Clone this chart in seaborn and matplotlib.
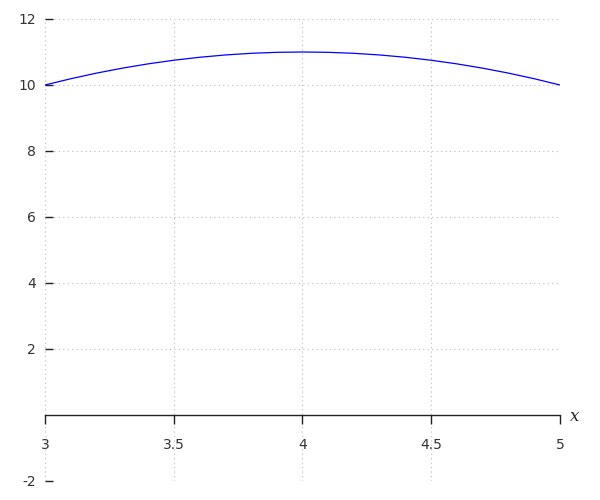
import matplotlib.pyplot as plt
import pandas as pd
import seaborn as sns

# points
x_vals = [3.0, 3.1, 3.2, 3.3, 3.4, 3.5, 3.6, 3.7, 3.8, 3.9, 4.0,
          4.1, 4.2, 4.3, 4.4, 4.5, 4.6, 4.7, 4.8, 4.9, 5.0]
y_vals = [10.0, 10.19, 10.36, 10.51, 10.64, 10.75, 10.84, 10.91, 10.96, 10.99, 11.0,
          10.99, 10.96, 10.91, 10.84, 10.75, 10.64, 10.51, 10.36, 10.19, 10.0]
x_ticks = [3, 3.5, 4, 4.5, 5]
x_tick_labels = ['3', '3.5', '4', '4.5', '5']
y_ticks = [-2, 2, 4, 6, 8, 10, 12]
y_tick_labels = ['-2', '2', '4', '6', '8', '10', '12']

df = pd.DataFrame({'x': x_vals, 'y': y_vals})

sns.set_theme(style='white')
plt.rcParams['font.family'] = ['DejaVu Sans']
plt.rcParams['axes.unicode_minus'] = False

fig = plt.figure(figsize=(6, 5), dpi=100)
ax = fig.add_axes([0.075, 0.038, 0.8583, 0.924])

sns.lineplot(data=df, x='x', y='y', ax=ax, color='blue', linewidth=0.9)

ax.set_xlim(3, 5)
ax.set_ylim(-2, 12)
ax.set_xticks(x_ticks)
ax.set_xticklabels(x_tick_labels)
ax.set_yticks(y_ticks)
ax.set_yticklabels(y_tick_labels)
ax.set_xlabel('')
ax.set_ylabel('')

# x axis sits at y=0, no left spine
ax.spines['bottom'].set_position(('data', 0))
ax.spines['bottom'].set_color('#222222')
ax.spines['bottom'].set_linewidth(1)
for s in ['left', 'right', 'top']:
    ax.spines[s].set_visible(False)

ax.tick_params(axis='x', direction='out', length=6.5, width=1, color='#222222',
               pad=10, labelsize=10, labelcolor='#333333', bottom=True)
ax.tick_params(axis='y', direction='in', length=5.8, width=1, color='#222222',
               pad=6.5, labelsize=10, labelcolor='#333333', left=True)

ax.grid(True, linestyle=(0, (1, 3)), color='#bbbbbb', linewidth=0.8)
ax.set_axisbelow(True)

ax.text(1.02, 0.1405, 'x', transform=ax.transAxes, family='DejaVu Serif',
        style='italic', fontsize=12, color='#222222', ha='left', va='center')

fig.savefig('out.png', dpi=100)
